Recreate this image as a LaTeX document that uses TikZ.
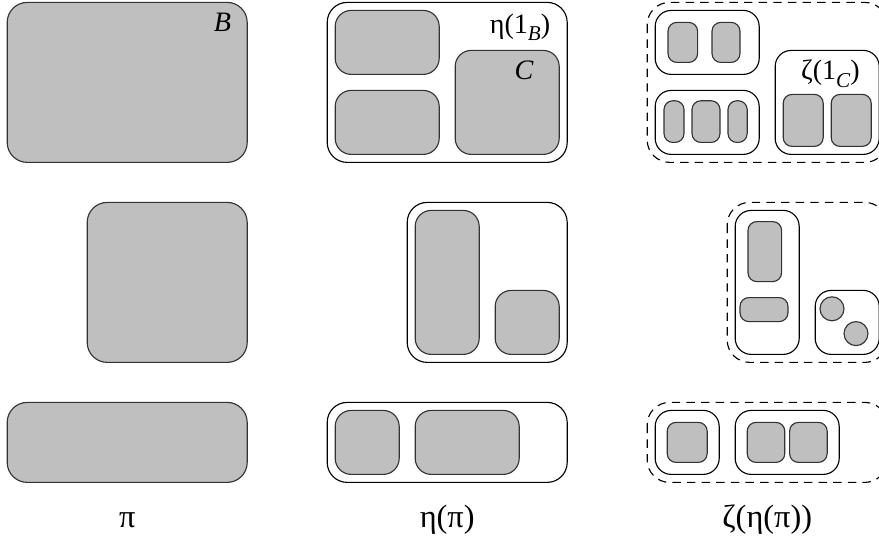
\documentclass[tikz,border=0pt]{standalone}
\usepackage{fontspec}
\setmainfont{Liberation Serif}
\newcommand{\lowsub}[1]{\raisebox{-0.6ex}{\fontsize{7.5}{8}\selectfont\itshape #1}}
\begin{document}
\begin{tikzpicture}[
    block/.style={draw=black!80, fill=lightgray, rounded corners=0.25cm},
    part/.style={block, rounded corners=0.2cm},
    piece/.style={block, rounded corners=0.11cm},
    frame/.style={draw, rounded corners=0.25cm},
    group/.style={draw, rounded corners=0.2cm},
    hull/.style={draw, dash pattern=on 3pt off 2.2pt, rounded corners=0.28cm},
    tag/.style={inner sep=0pt, font=\fontsize{10}{11}\selectfont},
    caption/.style={inner sep=0pt, font=\fontsize{11.5}{13}\selectfont}]
  \useasboundingbox (0,0) rectangle (10.9875,-6.7875);
  \begin{scope}[shift={(0.09,-0.03)}]
    \draw[block] (0,0) rectangle (3,-2);
    \node[tag] (B) at (2.69,-0.25) {\itshape B};
  \end{scope}
  \begin{scope}[shift={(0.09,-2.53)}]
    \draw[block] (1,0) rectangle (3,-2);
  \end{scope}
  \begin{scope}[shift={(0.09,-5.03)}]
    \draw[block] (0,0) rectangle (3,-1);
  \end{scope}
  \begin{scope}[shift={(4.09,-0.03)}]
    \draw[frame] (0,0) rectangle (3,-2);
    \draw[part] (0.1,-0.1) rectangle (1.4,-0.9);
    \draw[part] (0.1,-1.1) rectangle (1.4,-1.9);
    \draw[part] (1.6,-0.6) rectangle (2.9,-1.9);
    \node[tag] (etaB) at (2.41,-0.31) {η(1\lowsub{B})};
    \node[tag] (C) at (2.46,-0.85) {\itshape C};
  \end{scope}
  \begin{scope}[shift={(4.09,-2.53)}]
    \draw[frame] (1,0) rectangle (3,-2);
    \draw[part] (1.1,-0.1) rectangle (1.9,-1.9);
    \draw[part] (2.1,-1.1) rectangle (2.9,-1.9);
  \end{scope}
  \begin{scope}[shift={(4.09,-5.03)}]
    \draw[frame] (0,0) rectangle (3,-1);
    \draw[part] (0.1,-0.1) rectangle (0.9,-0.9);
    \draw[part] (1.1,-0.1) rectangle (2.4,-0.9);
  \end{scope}
  \begin{scope}[shift={(8.09,-0.03)}]
    \draw[hull] (0,0) rectangle (3,-2);
    \draw[group] (0.1,-0.1) rectangle (1.4,-0.9);
    \draw[piece] (0.26,-0.25) rectangle (0.63,-0.75);
    \draw[piece] (0.81,-0.25) rectangle (1.16,-0.75);
    \draw[group] (0.1,-1.1) rectangle (1.4,-1.9);
    \draw[piece] (0.21,-1.23) rectangle (0.46,-1.75);
    \draw[piece] (0.56,-1.23) rectangle (0.91,-1.75);
    \draw[piece] (1.01,-1.23) rectangle (1.25,-1.75);
    \draw[group] (1.6,-0.6) rectangle (2.9,-1.9);
    \draw[piece] (1.7,-1.15) rectangle (2.2,-1.8);
    \draw[piece] (2.3,-1.15) rectangle (2.8,-1.8);
    \node[tag] (zetaC) at (2.29,-0.89) {ζ(1\lowsub{C})};
  \end{scope}
  \begin{scope}[shift={(8.09,-2.53)}]
    \draw[hull] (1,0) rectangle (3,-2);
    \draw[group] (1.1,-0.1) rectangle (1.9,-1.9);
    \draw[piece] (1.26,-0.24) rectangle (1.68,-0.99);
    \draw[piece] (1.16,-1.19) rectangle (1.76,-1.49);
    \draw[group] (2.1,-1.1) rectangle (2.9,-1.9);
    \draw[draw=black!80, fill=lightgray] (2.31,-1.33) circle (0.15);
    \draw[draw=black!80, fill=lightgray] (2.61,-1.64) circle (0.15);
  \end{scope}
  \begin{scope}[shift={(8.09,-5.03)}]
    \draw[hull] (0,0) rectangle (3,-1);
    \draw[group] (0.1,-0.1) rectangle (0.9,-0.9);
    \draw[piece] (0.25,-0.25) rectangle (0.75,-0.75);
    \draw[group] (1.1,-0.1) rectangle (2.4,-0.9);
    \draw[piece] (1.25,-0.25) rectangle (1.72,-0.75);
    \draw[piece] (1.78,-0.25) rectangle (2.25,-0.75);
  \end{scope}
  \node[caption] (pi) at (1.59,-6.5) {π};
  \node[caption] (etapi) at (5.59,-6.5) {η(π)};
  \node[caption] (zetaetapi) at (9.59,-6.5) {ζ(η(π))};
\end{tikzpicture}
\end{document}
